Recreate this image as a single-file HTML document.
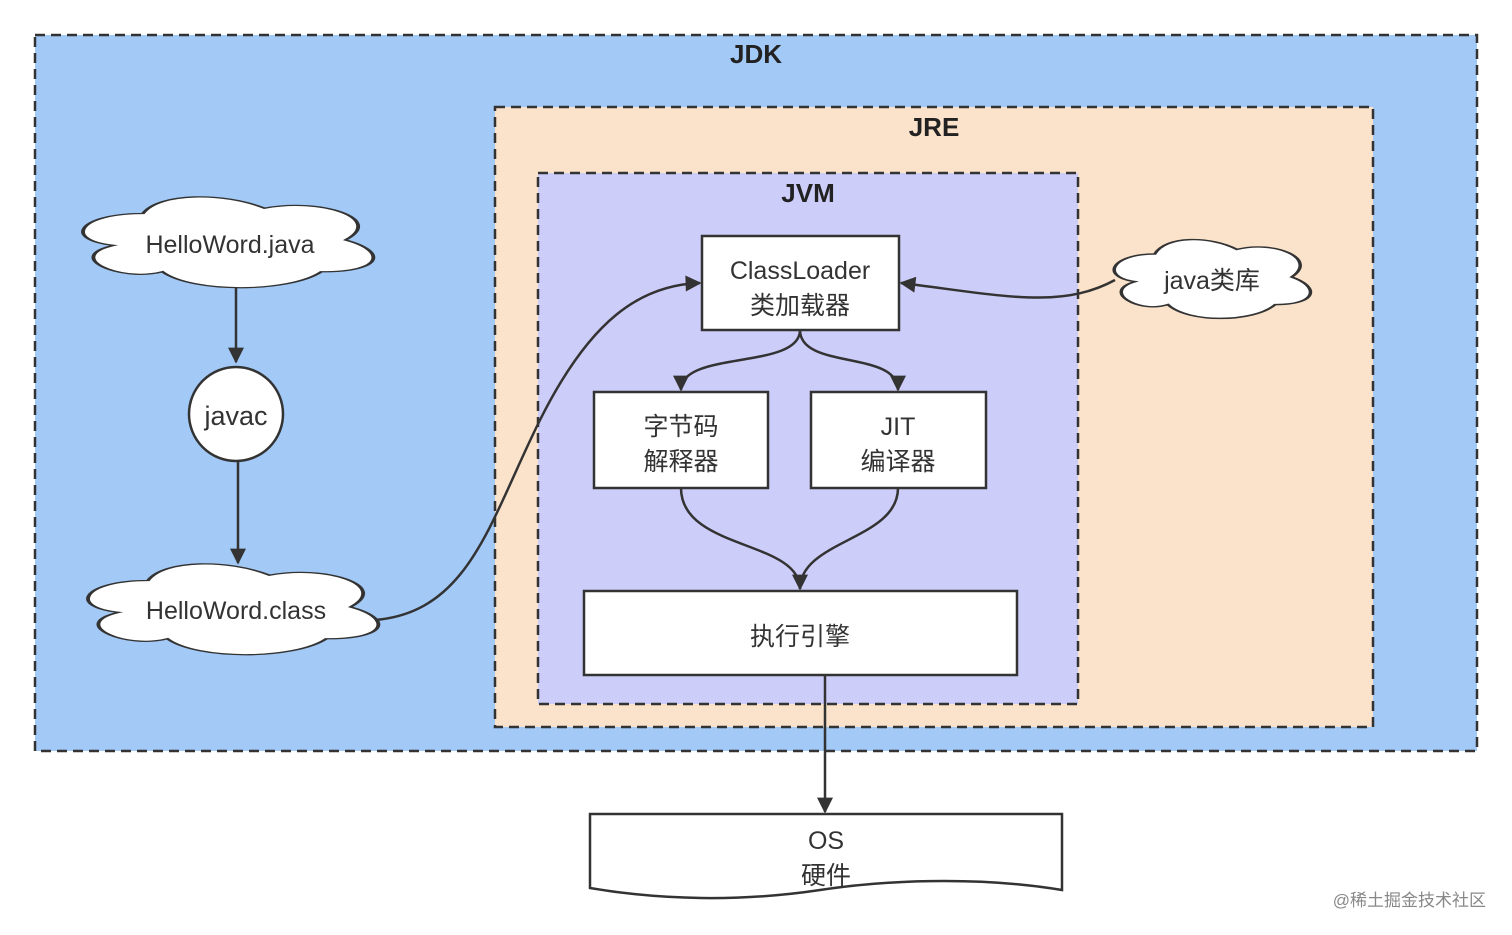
<!DOCTYPE html>
<html><head><meta charset="utf-8"><style>
body{margin:0;background:#fff;}
svg{display:block;}
text{font-family:"Liberation Sans","Noto Sans CJK SC",sans-serif;fill:#333;}
.t{font-size:25px;text-anchor:middle;}
.b{font-weight:bold;font-size:26px;text-anchor:middle;fill:#222;}
</style></head><body>
<svg width="1512" height="935" viewBox="0 0 1512 935" xmlns="http://www.w3.org/2000/svg">
<defs>
<marker id="ab" viewBox="0 0 10 10" refX="9" refY="5" markerWidth="20" markerHeight="16" orient="auto" markerUnits="userSpaceOnUse">
<path d="M0,0 L10,5 L0,10 Z" fill="#333"/></marker>
<path id="cloud" d="M0.25,0.25 C0.05,0.25 0,0.5 0.16,0.55 C0,0.66 0.18,0.9 0.31,0.8 C0.4,1 0.7,1 0.8,0.8 C1,0.8 1,0.6 0.875,0.5 C1,0.3 0.8,0.1 0.625,0.2 C0.5,0.05 0.3,0.05 0.25,0.25 Z"/>
</defs>
<rect x="0" y="0" width="1512" height="935" fill="#fff"/>
<rect x="35" y="35" width="1442" height="716" fill="#a3c9f6" stroke="#333" stroke-width="2.5" stroke-dasharray="10,6"/>
<text class="b" x="756" y="63">JDK</text>
<rect x="495" y="107" width="878" height="620" fill="#fbe3cb" stroke="#333" stroke-width="2.5" stroke-dasharray="10,6"/>
<text class="b" x="934" y="136">JRE</text>
<rect x="538" y="173" width="540" height="531" fill="#cdcdfa" stroke="#333" stroke-width="2.5" stroke-dasharray="10,6"/>
<text class="b" x="808" y="202">JVM</text>

<g fill="#fff" stroke="#333" stroke-width="2.5">
<use href="#cloud" transform="translate(62,187) scale(324,106)" style="stroke-width:0.012"/>
<use href="#cloud" transform="translate(67,554) scale(324,106)" style="stroke-width:0.012"/>
<use href="#cloud" transform="translate(1100,231) scale(219,92)" style="stroke-width:0.016"/>
<circle cx="236" cy="414" r="47"/>
<rect x="702" y="236" width="197" height="94"/>
<rect x="594" y="392" width="174" height="96"/>
<rect x="811" y="392" width="175" height="96"/>
<rect x="584" y="591" width="433" height="84"/>
<path d="M590,814 L1062,814 L1062,890 C990,878 900,878 820,890 C740,902 660,900 590,888 Z"/>
</g>
<text class="t" x="230" y="253">HelloWord.java</text>
<text class="t" x="236" y="619">HelloWord.class</text>
<text class="t" x="1212" y="289">java类库</text>
<text class="t" x="236" y="425" style="font-size:27px">javac</text>
<text class="t" x="800" y="279">ClassLoader</text>
<text class="t" x="800" y="314">类加载器</text>
<text class="t" x="681" y="435">字节码</text>
<text class="t" x="681" y="470">解释器</text>
<text class="t" x="898" y="435">JIT</text>
<text class="t" x="898" y="470">编译器</text>
<text class="t" x="800" y="645">执行引擎</text>
<text class="t" x="826" y="849">OS</text>
<text class="t" x="826" y="884">硬件</text>

<g fill="none" stroke="#333" stroke-width="2.5">
<path d="M236,288 L236,362" marker-end="url(#ab)"/>
<path d="M238,461 L238,563" marker-end="url(#ab)"/>
<path d="M375,620 C470,612 490,520 540,420 C590,320 640,285 700,283" marker-end="url(#ab)"/>
<path d="M1115,280 C1060,310 1000,295 901,283" marker-end="url(#ab)"/>
<path d="M800,330 C800,370 681,350 681,390" marker-end="url(#ab)"/>
<path d="M800,330 C800,370 898,350 898,390" marker-end="url(#ab)"/>
<path d="M681,488 C681,550 800,540 800,589" marker-end="url(#ab)"/>
<path d="M898,488 C898,540 800,540 800,589"/>
<path d="M825,675 L825,812" marker-end="url(#ab)"/>
</g>
<text x="1486" y="906" style="font-size:17px;fill:#888;text-anchor:end">@稀土掘金技术社区</text>
</svg>
</body></html>
